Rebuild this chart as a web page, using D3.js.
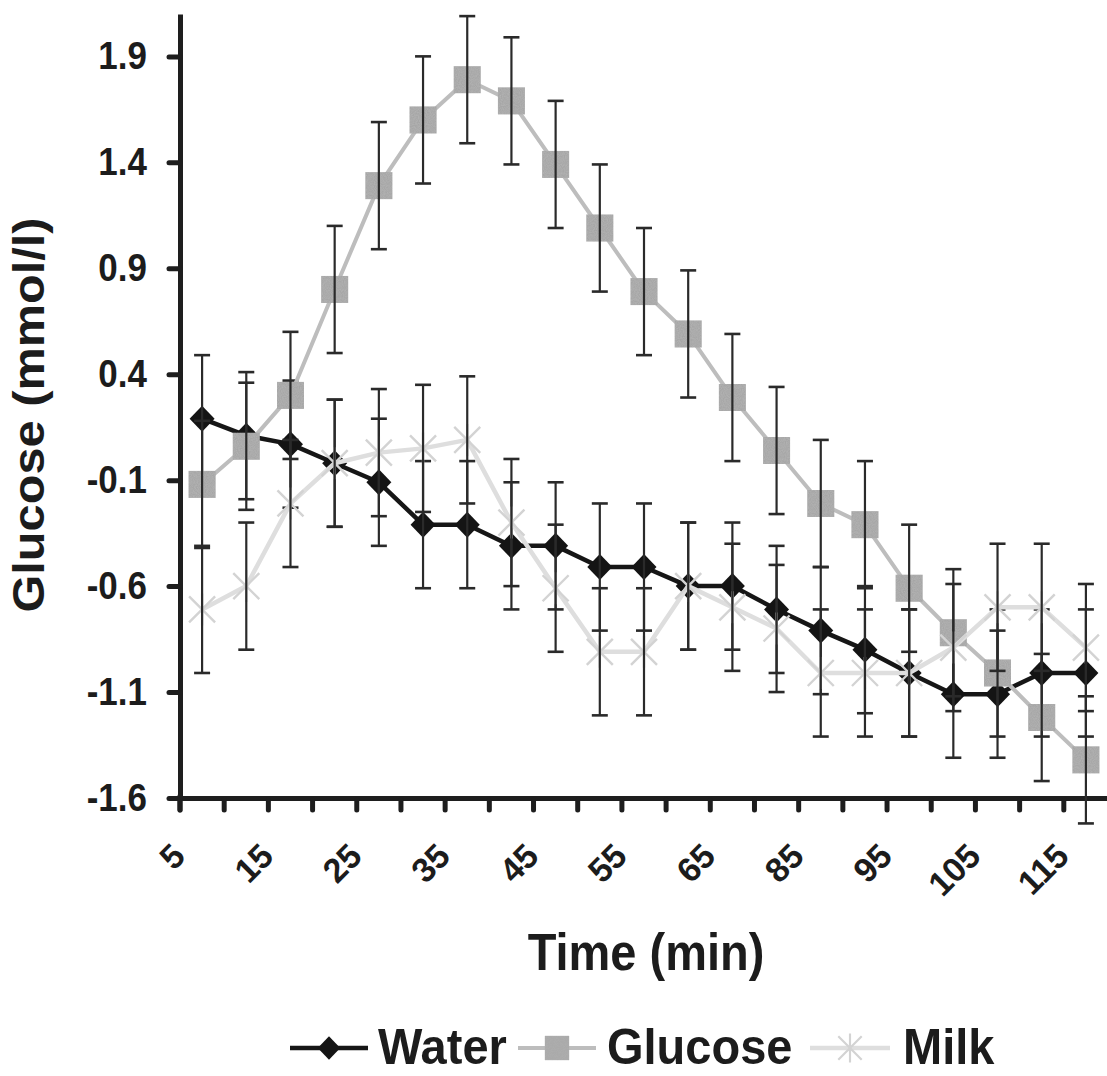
<!DOCTYPE html>
<html><head><meta charset="utf-8">
<script src="https://cdn.jsdelivr.net/npm/d3@7"></script>
<style>
body{margin:0;background:#fff}
text{font-family:"Liberation Sans",Arial,sans-serif;font-weight:bold;fill:#1c1c1c}
</style>
</head><body>
<svg id="chart" width="1107" height="1076"></svg>
<script>
// ---- data ----
const categories = ["5","10","15","20","25","30","35","40","45","50","55","60","65","75","85","90","95","100","105","110","115"];
const tickLabels = ["5","15","25","35","45","55","65","85","95","105","115"];
const yTicks = [-1.6,-1.1,-0.6,-0.1,0.4,0.9,1.4,1.9];
const water   = [0.19,0.11,0.07,-0.02,-0.11,-0.31,-0.31,-0.41,-0.41,-0.51,-0.51,-0.60,-0.60,-0.71,-0.81,-0.90,-1.01,-1.11,-1.11,-1.01,-1.01];
const glucose = [-0.12,0.06,0.30,0.80,1.29,1.60,1.79,1.69,1.39,1.09,0.79,0.59,0.29,0.04,-0.21,-0.31,-0.61,-0.82,-1.01,-1.22,-1.42];
const milk    = [-0.71,-0.60,-0.21,-0.02,0.03,0.05,0.09,-0.30,-0.61,-0.91,-0.91,-0.60,-0.70,-0.80,-1.01,-1.01,-1.01,-0.89,-0.70,-0.70,-0.89];
const waterErr   = [0.3,0.3,0.3,0.3,0.3,0.3,0.3,0.3,0.3,0.3,0.3,0.3,0.3,0.3,0.3,0.3,0.3,0.3,0.3,0.3,0.3];
const glucoseErr = [0.3,0.3,0.3,0.3,0.3,0.3,0.3,0.3,0.3,0.3,0.3,0.3,0.3,0.3,0.3,0.3,0.3,0.3,0.3,0.3,0.3];
const milkErr    = [0.3,0.3,0.3,0.3,0.3,0.3,0.3,0.3,0.3,0.3,0.3,0.3,0.3,0.3,0.3,0.3,0.3,0.3,0.3,0.3,0.3];
const seriesNames = ["Water","Glucose","Milk"];

// ---- setup ----
const svg = d3.select("#chart");
const SY = 1.12; // vertical text stretch seen in the reference
const defs = svg.append("defs");
const f = defs.append("filter").attr("id","grain").attr("x","0").attr("y","0").attr("width","1").attr("height","1");
f.append("feTurbulence").attr("type","fractalNoise").attr("baseFrequency","0.9").attr("numOctaves","2").attr("seed","3").attr("result","n");
f.append("feColorMatrix").attr("in","n").attr("type","matrix")
  .attr("values","0 0 0 0 0.5  0 0 0 0 0.5  0 0 0 0 0.5  0 0 0 0.9 -0.2").attr("result","n2");
f.append("feComposite").attr("in","n2").attr("in2","SourceGraphic").attr("operator","in").attr("result","n3");
f.append("feMerge").call(m=>{m.append("feMergeNode").attr("in","SourceGraphic");m.append("feMergeNode").attr("in","n3");});

const x = d3.scaleBand().domain(categories).range([180, 1108]).paddingInner(0).paddingOuter(0);
const bw = x.bandwidth();
const cx = c => x(c) + bw/2;
const y = d3.scaleLinear().domain([-1.6, 2.1]).range([798, 14]);

const series = [
  {name:"Water", vals:water, err:waterErr, line:"#161616", lw:4.5, marker:"diamond"},
  {name:"Glucose", vals:glucose, err:glucoseErr, line:"#bdbdbd", lw:4, marker:"square"},
  {name:"Milk", vals:milk, err:milkErr, line:"#dedede", lw:4.5, marker:"star"}
];

const diamondPath = "M0,-13L12.5,0L0,13L-12.5,0Z";
const squarePath = d3.symbol(d3.symbolSquare, 27*27)();

function drawMarker(g, type) {
  if (type === "diamond") g.append("path").attr("d", diamondPath).attr("fill", "#141414");
  else if (type === "square") g.append("path").attr("d", squarePath).attr("fill", "#a6a6a6").attr("filter","url(#grain)");
  else g.append("path").attr("d", "M0,-16L0,16M-13,-13L13,13M-13,13L13,-13").attr("stroke", "#d3d3d3").attr("stroke-width", 2.4).attr("fill","none");
}

// ---- axes ----
const yAxis = d3.axisLeft(y).tickValues(yTicks).tickSize(11).tickSizeOuter(0).tickPadding(22)
  .tickFormat(d => d.toFixed(1));
const gy = svg.append("g").attr("transform","translate(180,0)").call(yAxis);
gy.select(".domain").attr("stroke","#1e1e1e").attr("stroke-width",5);
gy.selectAll(".tick line").attr("stroke","#1e1e1e").attr("stroke-width",5).attr("stroke-linecap","round");
gy.selectAll(".tick text").attr("font-size",35).attr("font-family",null).attr("fill","#1c1c1c")
  .attr("transform",`scale(1,${SY})`);

const xAxis = d3.axisBottom(x).tickSize(12).tickSizeOuter(0)
  .tickFormat(d => tickLabels.includes(d) ? d : "");
const gx = svg.append("g").attr("transform","translate(0,798)").call(xAxis);
gx.select(".domain").attr("stroke","#1e1e1e").attr("stroke-width",5);
gx.selectAll(".tick line").attr("x1",-bw/2).attr("x2",-bw/2).attr("y1",2)
  .attr("stroke","#1e1e1e").attr("stroke-width",5).attr("stroke-linecap","round");
gx.selectAll(".tick text").attr("font-size",34).attr("font-family",null).attr("fill","#1c1c1c")
  .attr("y",0).attr("dy",0).attr("text-anchor","end")
  .attr("transform","translate(-15,60) rotate(-45)");
svg.append("line").attr("x1",180).attr("x2",180).attr("y1",796).attr("y2",810)
  .attr("stroke","#1e1e1e").attr("stroke-width",5).attr("stroke-linecap","round");

// ---- series ----
series.forEach(s => {
  const g = svg.append("g");
  const pts = categories.map((c,i)=>({c, v:s.vals[i], e:s.err[i]}));
  g.append("path").datum(pts)
    .attr("d", d3.line().x(d=>cx(d.c)).y(d=>y(d.v)))
    .attr("fill","none").attr("stroke", s.line).attr("stroke-width", s.lw).attr("stroke-linejoin","round");
  pts.forEach(d => {
    const m = g.append("g").attr("transform", `translate(${cx(d.c)},${y(d.v)})`);
    drawMarker(m, s.marker);
  });
  const eb = g.append("g").attr("stroke","#2a2a2a").attr("stroke-width",2.2);
  pts.forEach(d => {
    const X = cx(d.c), y1 = y(d.v + d.e), y2 = y(d.v - d.e);
    eb.append("line").attr("x1",X).attr("x2",X).attr("y1",y1).attr("y2",y2);
    eb.append("line").attr("x1",X-8).attr("x2",X+8).attr("y1",y1).attr("y2",y1).attr("stroke-width",2.6);
    eb.append("line").attr("x1",X-8).attr("x2",X+8).attr("y1",y2).attr("y2",y2).attr("stroke-width",2.6);
  });
});

// ---- titles ----
function stretchedText(tx, ty, str, size, anchor, rot, sy) {
  const g = svg.append("g").attr("transform", `translate(${tx},${ty}) scale(1,${sy||SY})${rot?` rotate(${rot})`:""}`);
  g.append("text").attr("text-anchor", anchor).attr("font-size", size).text(str);
}
stretchedText(646, 970, "Time (min)", 47, "middle");
stretchedText(44, 415, "Glucose (mmol/l)", 43.5, "middle", -90);

// ---- legend ----
const legendPos = [
  {lx1:290, lx2:368, mx:329, tx:378},
  {lx1:518, lx2:596, mx:557, tx:607},
  {lx1:810, lx2:890, mx:850, tx:903}
];
const ly = 1048;
series.forEach((s,i) => {
  const p = legendPos[i];
  svg.append("line").attr("x1",p.lx1).attr("x2",p.lx2).attr("y1",ly).attr("y2",ly)
    .attr("stroke", s.line).attr("stroke-width", s.lw);
  const m = svg.append("g").attr("transform", `translate(${p.mx},${ly}) scale(0.9)`);
  drawMarker(m, s.marker);
  stretchedText(p.tx, 1064, seriesNames[i], 47, "start", 0, 1.08);
});
</script>
</body></html>
